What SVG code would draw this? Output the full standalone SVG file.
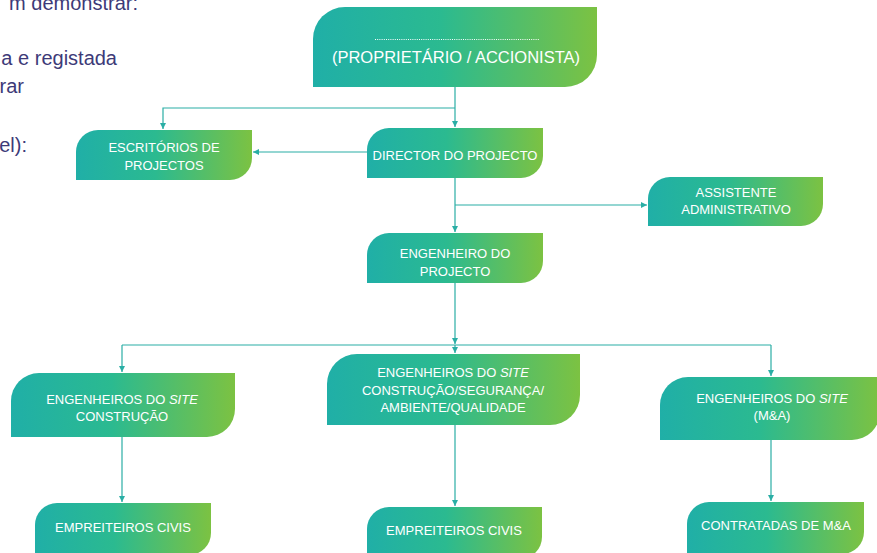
<svg xmlns="http://www.w3.org/2000/svg" width="877" height="553" viewBox="0 0 877 553">
<defs>
<linearGradient id="g" x1="0" y1="0" x2="1" y2="0">
<stop offset="0" stop-color="#20afa7"/>
<stop offset="0.45" stop-color="#2bba90"/>
<stop offset="1" stop-color="#7cc242"/>
</linearGradient>
<marker id="a" markerWidth="7" markerHeight="6" refX="6" refY="3" orient="auto" markerUnits="userSpaceOnUse">
<path d="M0,0 L6,3 L0,6 Z" fill="#2aaea5"/>
</marker>
<style>
.n{fill:url(#g)}
.t{font-family:"Liberation Sans",Arial,sans-serif;font-size:13px;fill:#ffffff;text-anchor:middle}
.bg{font-family:"Liberation Sans",Arial,sans-serif;font-size:20px;fill:#3d3a78;text-anchor:end}
.c{fill:none;stroke:#2aaea5;stroke-width:1.2}
</style>
</defs>
<rect width="877" height="553" fill="#ffffff"/>
<g id="background-text">
<text class="bg" x="138" y="10">m demonstrar:</text>
<text class="bg" x="117" y="65">a e registada</text>
<text class="bg" x="24" y="93">rar</text>
<text class="bg" x="27" y="152">el):</text>
</g>
<g id="connectors">
<path class="c" d="M455,87 V127" marker-end="url(#a)"/>
<path class="c" d="M455,108 H163 V129" marker-end="url(#a)"/>
<path class="c" d="M367,152 H253" marker-end="url(#a)"/>
<path class="c" d="M455,178 V232" marker-end="url(#a)"/>
<path class="c" d="M455,205 H647" marker-end="url(#a)"/>
<path class="c" d="M455,283 V344" marker-end="url(#a)"/>
<path class="c" d="M122,345 H771"/>
<path class="c" d="M122,345 V372" marker-end="url(#a)"/>
<path class="c" d="M455,345 V353" marker-end="url(#a)"/>
<path class="c" d="M771,345 V376" marker-end="url(#a)"/>
<path class="c" d="M122,437 V502" marker-end="url(#a)"/>
<path class="c" d="M455,425 V506" marker-end="url(#a)"/>
<path class="c" d="M771,440 V501" marker-end="url(#a)"/>
</g>
<g id="owner">
<path class="n" d="M345,7 H597 V55 A32,32 0 0 1 565,87 H313 V39 A32,32 0 0 1 345,7 Z"/>
<line x1="375" y1="39.5" x2="539" y2="39.5" stroke="#ffffff" stroke-width="1" stroke-dasharray="1,1.2"/>
<text class="t" x="456" y="63" style="font-size:16.5px">(PROPRIETÁRIO / ACCIONISTA)</text>
</g>
<g id="escritorios">
<path class="n" d="M98,130 H252 V158 A22,22 0 0 1 230,180 H76 V152 A22,22 0 0 1 98,130 Z"/>
<text class="t" x="164" y="152">ESCRITÓRIOS DE</text>
<text class="t" x="164" y="170">PROJECTOS</text>
</g>
<g id="director">
<path class="n" d="M389,128 H543 V156 A22,22 0 0 1 521,178 H367 V150 A22,22 0 0 1 389,128 Z"/>
<text class="t" x="455" y="160">DIRECTOR DO PROJECTO</text>
</g>
<g id="assistente">
<path class="n" d="M670,177 H823 V204 A22,22 0 0 1 801,226 H648 V199 A22,22 0 0 1 670,177 Z"/>
<text class="t" x="736" y="197">ASSISTENTE</text>
<text class="t" x="736" y="214">ADMINISTRATIVO</text>
</g>
<g id="engenheiro-projecto">
<path class="n" d="M389,233 H543 V261 A22,22 0 0 1 521,283 H367 V255 A22,22 0 0 1 389,233 Z"/>
<text class="t" x="455" y="258">ENGENHEIRO DO</text>
<text class="t" x="455" y="276">PROJECTO</text>
</g>
<g id="site-construcao">
<path class="n" d="M39,373 H235 V409 A28,28 0 0 1 207,437 H11 V401 A28,28 0 0 1 39,373 Z"/>
<text class="t" x="122" y="404">ENGENHEIROS DO <tspan font-style="italic">SITE</tspan></text>
<text class="t" x="122" y="421">CONSTRUÇÃO</text>
</g>
<g id="site-seguranca">
<path class="n" d="M357,354 H580 V395 A30,30 0 0 1 550,425 H327 V384 A30,30 0 0 1 357,354 Z"/>
<text class="t" x="453" y="377">ENGENHEIROS DO <tspan font-style="italic">SITE</tspan></text>
<text class="t" x="453" y="395">CONSTRUÇÃO/SEGURANÇA/</text>
<text class="t" x="453" y="412">AMBIENTE/QUALIDADE</text>
</g>
<g id="site-ma">
<path class="n" d="M688,377 H880 V412 A28,28 0 0 1 852,440 H660 V405 A28,28 0 0 1 688,377 Z"/>
<text class="t" x="772" y="403">ENGENHEIROS DO <tspan font-style="italic">SITE</tspan></text>
<text class="t" x="772" y="420">(M&amp;A)</text>
</g>
<g id="empreiteiros-1">
<path class="n" d="M57,503 H211 V533 A22,22 0 0 1 189,555 H35 V525 A22,22 0 0 1 57,503 Z"/>
<text class="t" x="123" y="532">EMPREITEIROS CIVIS</text>
</g>
<g id="empreiteiros-2">
<path class="n" d="M389,507 H542 V537 A22,22 0 0 1 520,559 H367 V529 A22,22 0 0 1 389,507 Z"/>
<text class="t" x="454" y="535">EMPREITEIROS CIVIS</text>
</g>
<g id="contratadas">
<path class="n" d="M709,502 H864 V532 A22,22 0 0 1 842,554 H687 V524 A22,22 0 0 1 709,502 Z"/>
<text class="t" x="776" y="530">CONTRATADAS DE M&amp;A</text>
</g>
</svg>
